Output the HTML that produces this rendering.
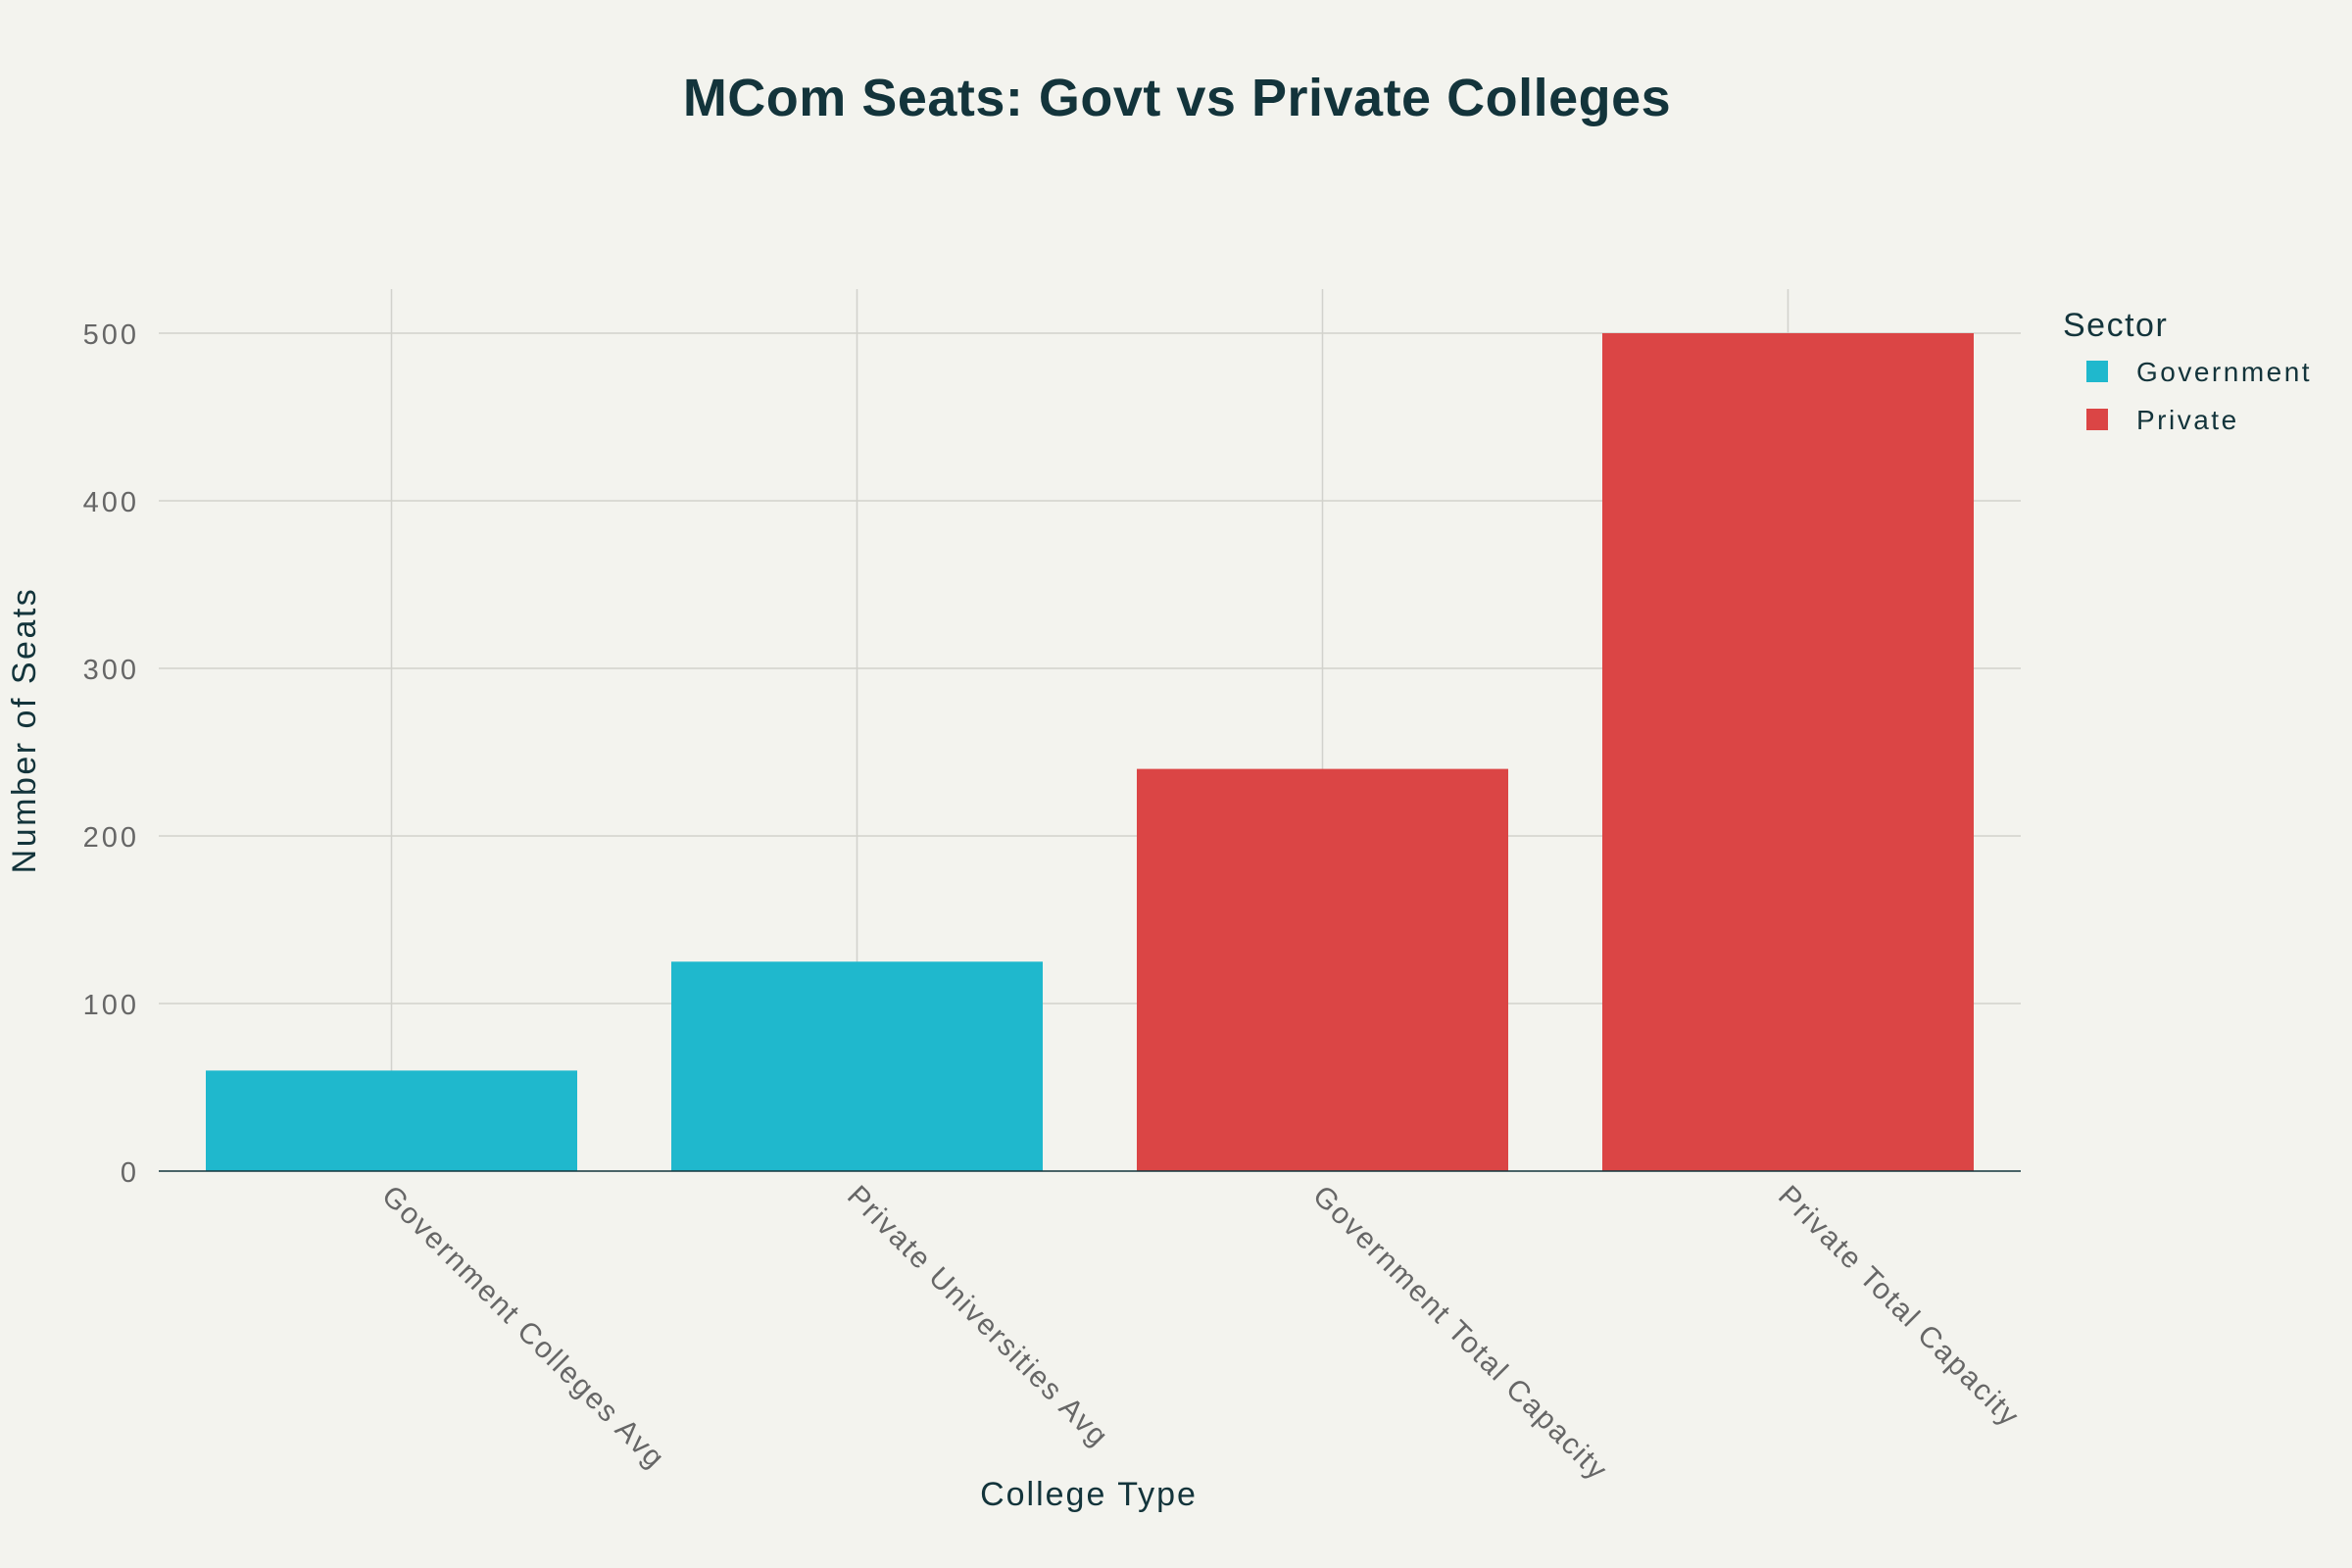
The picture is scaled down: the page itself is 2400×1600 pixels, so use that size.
<!DOCTYPE html>
<html><head><meta charset="utf-8"><style>
html,body{margin:0;padding:0;background:#f3f3ee;}
svg{display:block;font-family:"Liberation Sans",sans-serif;}
</style></head><body>
<svg width="2400" height="1600" viewBox="0 0 2400 1600">
<rect width="2400" height="1600" fill="#f3f3ee"/>
<text x="1201" y="118" text-anchor="middle" font-size="54" font-weight="bold" fill="#13343b" letter-spacing="0.5">MCom Seats: Govt vs Private Colleges</text>
<g stroke="#d2d2cc" stroke-width="1.5">
<line x1="162" x2="2062" y1="1024" y2="1024"/>
<line x1="162" x2="2062" y1="853" y2="853"/>
<line x1="162" x2="2062" y1="682" y2="682"/>
<line x1="162" x2="2062" y1="511" y2="511"/>
<line x1="162" x2="2062" y1="340" y2="340"/>
<line x1="399.5" x2="399.5" y1="295" y2="1195"/>
<line x1="874.5" x2="874.5" y1="295" y2="1195"/>
<line x1="1349.5" x2="1349.5" y1="295" y2="1195"/>
<line x1="1824.5" x2="1824.5" y1="295" y2="1195"/>
</g>
<rect x="210" y="1092.4" width="379" height="102.6" fill="#1fb8cd"/>
<rect x="685" y="981.3" width="379" height="213.7" fill="#1fb8cd"/>
<rect x="1160" y="784.6" width="379" height="410.4" fill="#db4545"/>
<rect x="1635" y="340" width="379" height="855" fill="#db4545"/>
<line x1="162" x2="2062" y1="1195" y2="1195" stroke="#13343b" stroke-width="1.5"/>
<g font-size="29" fill="#666" text-anchor="end" letter-spacing="3">
<text x="142" y="1206">0</text>
<text x="142" y="1035">100</text>
<text x="142" y="864">200</text>
<text x="142" y="693">300</text>
<text x="142" y="522">400</text>
<text x="142" y="351">500</text>
</g>
<g font-size="30" fill="#666" letter-spacing="2">
<text transform="translate(388,1222) rotate(45)">Government Colleges Avg</text>
<text transform="translate(863,1222) rotate(45)">Private Universities Avg</text>
<text transform="translate(1338,1222) rotate(45)">Government Total Capacity</text>
<text transform="translate(1813,1222) rotate(45)">Private Total Capacity</text>
</g>
<text x="1111" y="1536" text-anchor="middle" font-size="34" fill="#13343b" letter-spacing="2">College Type</text>
<text transform="translate(36,745) rotate(-90)" text-anchor="middle" font-size="34" fill="#13343b" letter-spacing="2.5">Number of Seats</text>
<text x="2105" y="343" font-size="34" fill="#13343b" letter-spacing="1.5">Sector</text>
<rect x="2129" y="368" width="22" height="22" fill="#1fb8cd"/>
<text x="2180" y="389" font-size="28" fill="#13343b" letter-spacing="2.5">Government</text>
<rect x="2129" y="417" width="22" height="22" fill="#db4545"/>
<text x="2180" y="438" font-size="28" fill="#13343b" letter-spacing="2.5">Private</text>
</svg>
</body></html>
